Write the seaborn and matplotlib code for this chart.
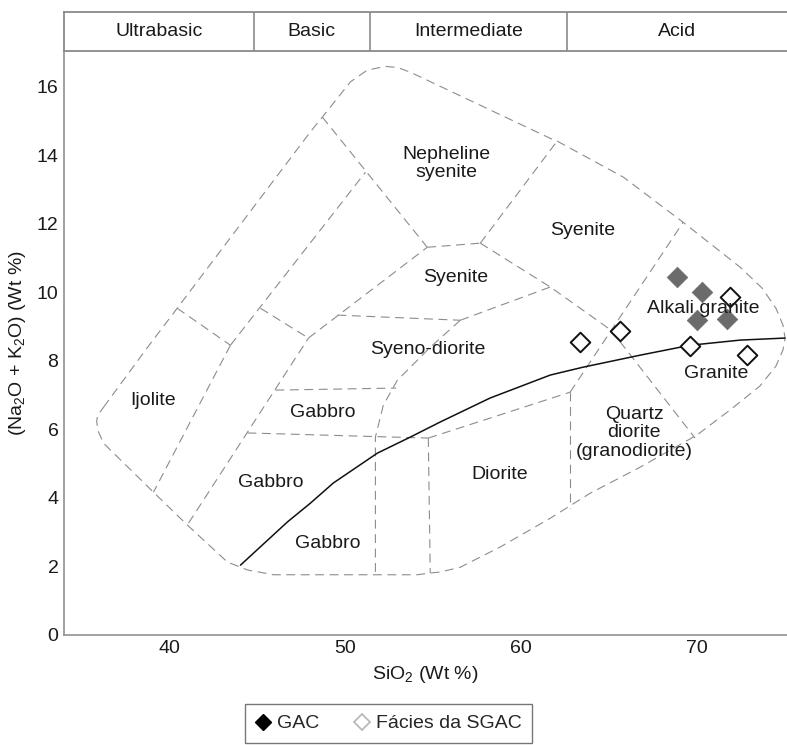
import matplotlib
matplotlib.use("Agg")
import matplotlib.pyplot as plt
import seaborn as sns
from matplotlib.lines import Line2D

sns.set_theme(style="white")
plt.rcParams["font.family"] = ["Liberation Sans", "DejaVu Sans"]
plt.rcParams["mathtext.fontset"] = "custom"
plt.rcParams["mathtext.rm"] = "Liberation Sans"
plt.rcParams["mathtext.it"] = "Liberation Sans:italic"
plt.rcParams["mathtext.bf"] = "Liberation Sans:bold"

# ---- TAS field outline (SiO2 wt %, Na2O+K2O wt %) ----
outer_sio2 = [36.25, 38.64, 40.44, 48.02, 48.70, 50.30, 51.25, 52.27, 52.97, 53.71,
              61.67, 62.06, 65.82, 69.23, 72.47, 73.72, 74.51, 74.91, 75.03, 74.91,
              74.51, 73.60, 71.90, 70.02, 66.78, 63.94, 61.67, 58.82, 56.55, 55.41,
              54.84, 54.10, 45.92, 44.44, 43.30, 41.02, 39.09, 36.25, 35.92, 35.86,
              35.92, 36.25]
outer_alk = [6.64, 8.31, 9.53, 14.68, 15.11, 16.14, 16.48, 16.59, 16.56, 16.42,
             14.49, 14.41, 13.36, 12.04, 10.73, 10.12, 9.53, 9.04, 8.66, 8.31,
             7.84, 7.26, 6.56, 5.83, 4.89, 4.13, 3.40, 2.56, 1.97, 1.83,
             1.80, 1.75, 1.75, 1.89, 2.12, 3.20, 4.16, 5.59, 5.97, 6.24,
             6.41, 6.64]

# ---- internal field boundaries ----
ijolite_top_sio2 = [40.44, 43.47]
ijolite_top_alk = [9.53, 8.45]
ijolite_right_sio2 = [43.47, 39.09]
ijolite_right_alk = [8.45, 4.16]
gabbro_left_sio2 = [43.47, 51.15]
gabbro_left_alk = [8.45, 13.50]
gabbro_bar_sio2 = [45.18, 47.91]
gabbro_bar_alk = [9.53, 8.66]
gabbro_mid_sio2 = [41.09, 47.91]
gabbro_mid_alk = [3.26, 8.66]
syenodiorite_left_sio2 = [47.91, 54.67]
syenodiorite_left_alk = [8.66, 11.31]
nephsy_left_sio2 = [48.70, 54.67]
nephsy_left_alk = [15.11, 11.31]
nephsy_base_sio2 = [54.67, 57.69]
nephsy_base_alk = [11.31, 11.43]
nephsy_right_sio2 = [57.69, 62.06]
nephsy_right_alk = [11.43, 14.41]
syenite_base_sio2 = [49.56, 56.55]
syenite_base_alk = [9.33, 9.18]
syenite_right_sio2 = [56.55, 61.67]
syenite_right_alk = [9.18, 10.15]
syenite_upper_sio2 = [57.69, 61.67, 65.13]
syenite_upper_alk = [11.43, 10.15, 8.89]
granite_left_sio2 = [65.13, 69.91]
granite_left_alk = [8.89, 5.74]
alkgranite_left_sio2 = [62.80, 69.23]
alkgranite_left_alk = [7.08, 12.04]
syenodiorite_right_sio2 = [56.55, 54.84, 52.97, 52.17, 51.72, 51.72]
syenodiorite_right_alk = [9.18, 8.39, 7.43, 6.70, 5.77, 1.75]
gabbro_upper_sio2 = [46.03, 52.90]
gabbro_upper_alk = [7.14, 7.20]
gabbro_lower_sio2 = [44.44, 54.73]
gabbro_lower_alk = [5.89, 5.74]
diorite_left_sio2 = [54.73, 54.84]
diorite_left_alk = [5.74, 1.80]
diorite_top_sio2 = [54.73, 62.80]
diorite_top_alk = [5.74, 7.08]
qdiorite_left_sio2 = [62.80, 62.80]
qdiorite_left_alk = [7.08, 3.70]

# alkaline / subalkaline divide
divide_sio2 = [44.04, 46.71, 48.02, 49.33, 51.83, 53.71, 55.41, 58.25, 61.67,
               63.54, 66.78, 69.63, 72.47, 75.03]
divide_alk = [2.03, 3.29, 3.84, 4.43, 5.30, 5.77, 6.21, 6.91, 7.58,
              7.81, 8.16, 8.45, 8.60, 8.66]

# ---- samples ----
gac_sio2 = [68.87, 70.29, 70.01, 71.71]
gac_alk = [10.45, 10.01, 9.18, 9.21]
sgac_sio2 = [63.37, 65.61, 69.63, 71.90, 72.85]
sgac_alk = [8.55, 8.86, 8.43, 9.86, 8.16]

# ---- field names ----
field_names = ["Nepheline\nsyenite", "Syenite", "Syenite", "Syeno-diorite",
               "Alkali granite", "Granite", "Ijolite", "Gabbro", "Gabbro",
               "Gabbro", "Diorite", "Quartz\ndiorite\n(granodiorite)"]
field_x = [55.75, 63.54, 56.27, 54.73, 70.36, 71.10, 39.07, 48.73, 45.75,
           48.99, 58.77, 66.44]
field_y = [13.75, 11.81, 10.43, 8.34, 9.53, 7.63, 6.85, 6.50, 4.43,
           2.65, 4.69, 5.89]

# ---- silica classes ----
class_names = ["Ultrabasic", "Basic", "Intermediate", "Acid"]
class_edges = [34.0, 44.8, 51.4, 62.6, 75.14]

XLIM = (34.0, 75.14)
GRAY = "#8c8c8c"
TXT = "#1a1a1a"

fig = plt.figure(figsize=(7.87, 7.45), dpi=100)
W, H = 787, 745
ax_l, ax_r = 64 / W, 1.0
ax_b, ax_t = 1 - 634.7 / H, 1 - 51 / H
ax = fig.add_axes([ax_l, ax_b, ax_r - ax_l, ax_t - ax_b])
hax = fig.add_axes([ax_l, ax_t, ax_r - ax_l, (51 - 12) / H])

dash = (0, (8, 5))
boundaries = [
    (outer_sio2, outer_alk),
    (ijolite_top_sio2, ijolite_top_alk),
    (ijolite_right_sio2, ijolite_right_alk),
    (gabbro_left_sio2, gabbro_left_alk),
    (gabbro_bar_sio2, gabbro_bar_alk),
    (gabbro_mid_sio2, gabbro_mid_alk),
    (syenodiorite_left_sio2, syenodiorite_left_alk),
    (nephsy_left_sio2, nephsy_left_alk),
    (nephsy_base_sio2, nephsy_base_alk),
    (nephsy_right_sio2, nephsy_right_alk),
    (syenite_base_sio2, syenite_base_alk),
    (syenite_right_sio2, syenite_right_alk),
    (syenite_upper_sio2, syenite_upper_alk),
    (granite_left_sio2, granite_left_alk),
    (alkgranite_left_sio2, alkgranite_left_alk),
    (syenodiorite_right_sio2, syenodiorite_right_alk),
    (gabbro_upper_sio2, gabbro_upper_alk),
    (gabbro_lower_sio2, gabbro_lower_alk),
    (diorite_left_sio2, diorite_left_alk),
    (diorite_top_sio2, diorite_top_alk),
    (qdiorite_left_sio2, qdiorite_left_alk),
]
for xs, ys in boundaries:
    sns.lineplot(x=xs, y=ys, sort=False, estimator=None, errorbar=None,
                 color=GRAY, lw=0.8, linestyle=dash, ax=ax)

sns.lineplot(x=divide_sio2, y=divide_alk, sort=False, estimator=None,
             errorbar=None, color="#111111", lw=1.1, ax=ax)

sns.scatterplot(x=gac_sio2, y=gac_alk, marker="D", s=110, color="#6b6b6b",
                edgecolor="#6b6b6b", linewidth=0.5, ax=ax, zorder=5)
sns.scatterplot(x=sgac_sio2, y=sgac_alk, marker="D", s=100, color="white",
                edgecolor="#111111", linewidth=1.4, ax=ax, zorder=5)

for name, fx, fy in zip(field_names, field_x, field_y):
    ax.text(fx, fy, name, ha="center", va="center", fontsize=14, color=TXT,
            linespacing=1.1, zorder=6)

ax.set_xlim(*XLIM)
ax.set_ylim(0, 17.04)
ax.set_xticks([40, 50, 60, 70])
ax.set_yticks(range(0, 17, 2))
ax.tick_params(direction="in", length=8.5, width=1.0, color="#999999",
               labelsize=14, labelcolor=TXT, pad=4)
for side in ("top", "right"):
    ax.spines[side].set_visible(False)
for side in ("left", "bottom"):
    ax.spines[side].set_color("#9a9a9a")
    ax.spines[side].set_linewidth(1.3)
ax.set_xlabel("SiO$_2$ (Wt %)", fontsize=14, color=TXT, labelpad=5)
ax.set_ylabel("(Na$_2$O + K$_2$O) (Wt %)", fontsize=14, color=TXT, labelpad=6)

# silica class header
hax.set_xlim(*XLIM)
hax.set_ylim(0, 1)
hax.set_xticks([])
hax.set_yticks([])
hax.spines["right"].set_visible(False)
for side in ("top", "left", "bottom"):
    hax.spines[side].set_color("#8a8a8a")
    hax.spines[side].set_linewidth(1.3)
for edge in class_edges[1:-1]:
    hax.axvline(edge, color="#8a8a8a", lw=1.2)
for name, lo, hi in zip(class_names, class_edges[:-1], class_edges[1:]):
    hax.text((lo + hi) / 2, 0.5, name, ha="center", va="center",
             fontsize=14, color=TXT)

handles = [
    Line2D([], [], marker="D", ls="", color="black", markersize=8.5),
    Line2D([], [], marker="D", ls="", markerfacecolor="white",
           markeredgecolor="#b5b5b5", markeredgewidth=1.2, markersize=8.5),
]
fig.legend(handles, ["GAC", "Fácies da SGAC"], ncol=2, loc="upper left",
           bbox_to_anchor=(245 / W, 1 - 704 / H), frameon=True, fancybox=False,
           edgecolor="#777777", framealpha=1, fontsize=14, handlelength=0.8,
           handletextpad=0.3, columnspacing=1.8, borderpad=0.55,
           borderaxespad=0)

fig.savefig("out.png", dpi=100)
